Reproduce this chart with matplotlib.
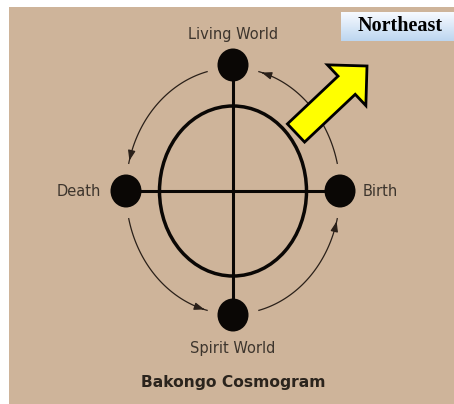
import matplotlib
matplotlib.use('Agg')
import matplotlib.pyplot as plt
import numpy as np
from matplotlib.patches import Rectangle, Ellipse, FancyArrow

# --- diagram content ---
node_names = ['Birth', 'Living World', 'Death', 'Spirit World']
node_x = [340, 233, 126, 233]
node_y = [191, 65, 191, 315]
label_x = [380, 233, 79, 233]
label_y = [191, 34, 191, 348]
cycle_arcs = [(13, 76), (104, 167), (193, 256), (284, 347)]  # degrees, drawn in cycle order
title_text = 'Bakongo Cosmogram'
direction_text = 'Northeast'

paper = '#CEB49A'
ink = '#0a0705'
text_col = '#3d352d'

fig = plt.figure(figsize=(4.54, 4.04), dpi=100)
ax = fig.add_axes([0, 0, 1, 1])
ax.set_xlim(0, 454)
ax.set_ylim(404, 0)
ax.axis('off')

# paper background
ax.add_patch(Rectangle((9, 7), 445, 397, fc=paper, ec='none', zorder=0))

cx, cy = 233, 191
# inner ring
ax.add_patch(Ellipse((cx, cy), 147, 170, fill=False, ec=ink, lw=2.5, zorder=2))
# cross
ax.plot([node_x[1], node_x[3]], [node_y[1], node_y[3]], color=ink, lw=2.2, zorder=2)
ax.plot([node_x[2], node_x[0]], [node_y[2], node_y[0]], color=ink, lw=2.2, zorder=2)

# outer cycle arrows
a_r, b_r = 107, 123
for t0, t1 in cycle_arcs:
    t = np.radians(np.linspace(t0, t1, 80))
    xs = cx + a_r * np.cos(t)
    ys = cy - b_r * np.sin(t)
    ax.plot(xs, ys, color='#2a2019', lw=0.9, zorder=2)
    ax.annotate('', xy=(xs[-1], ys[-1]), xytext=(xs[-6], ys[-6]),
                arrowprops=dict(arrowstyle='-|>,head_length=0.6,head_width=0.22',
                                color='#2a2019', lw=0.9), zorder=3)

# nodes and labels
for name, x, y, lx, ly in zip(node_names, node_x, node_y, label_x, label_y):
    ax.add_patch(Ellipse((x, y), 31, 33, fc=ink, ec='none', zorder=4))
    ax.text(lx, ly, name, ha='center', va='center', fontsize=10.5,
            color=text_col, family='DejaVu Sans')

ax.text(233, 383, title_text, ha='center', va='center', fontsize=11.2,
        fontweight='bold', color='#2b241d', family='DejaVu Sans')

# yellow direction arrow
ax.add_patch(FancyArrow(296, 133, 71, -67, width=25, head_width=56, head_length=28,
                        length_includes_head=True, fc='#FFFF00', ec='black', lw=2.0,
                        zorder=5))

# label box with soft gradient
grad = np.linspace(0, 1, 50).reshape(-1, 1)
top = np.array([0.97, 0.98, 1.0])
bottom = np.array([0.74, 0.84, 0.94])
img = top + grad[..., None] * (bottom - top)
img = np.repeat(img, 2, axis=1)
ax.imshow(img, extent=(341, 454, 41, 12), aspect='auto', zorder=6)
ax.text(400, 26, direction_text, ha='center', va='center', fontsize=14.5,
        fontweight='bold', color='black', family='Liberation Serif', zorder=7)

fig.savefig('out.png', dpi=100)
